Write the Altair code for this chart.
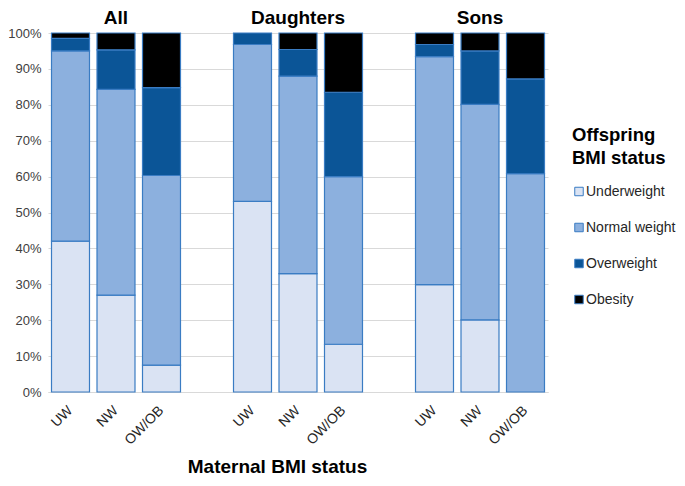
import altair as alt
import pandas as pd

# ---- data ----
groups = ["All", "Daughters", "Sons"]
maternal = ["UW", "NW", "OW/OB"]
categories = ["Underweight", "Normal weight", "Overweight", "Obesity"]
# one value per bar: All UW, All NW, All OW/OB, Daughters UW ... Sons OW/OB (percent)
underweight = [42.0, 27.0, 7.5, 53.1, 33.0, 13.3, 29.9, 20.1, 0.0]
normal_weight = [53.0, 57.3, 52.8, 43.7, 55.0, 46.7, 63.5, 60.0, 60.8]
overweight = [3.5, 11.0, 24.5, 3.2, 7.4, 23.5, 3.4, 14.9, 26.4]
obesity = [1.5, 4.7, 15.2, 0.0, 4.6, 16.5, 3.2, 5.0, 12.8]
y_ticks = [0, 10, 20, 30, 40, 50, 60, 70, 80, 90, 100]

colors = ["#dae3f3", "#8cb0de", "#0b5597", "#000000"]
edge = "#3a7cc3"
font = "Liberation Sans"

# ---- build tables ----
slot_domain = []
for i, g in enumerate(groups):
    if i > 0:
        slot_domain.append(f"gap{i}")
    for m in maternal:
        slot_domain.append(f"{g}|{m}")

series = [underweight, normal_weight, overweight, obesity]
rows = []
k = 0
for g in groups:
    for m in maternal:
        for ci, c in enumerate(categories):
            v = series[ci][k]
            if v > 0:
                rows.append({"slot": f"{g}|{m}", "status": c, "order": ci, "value": v})
        k += 1
df = pd.DataFrame(rows)
heads = pd.DataFrame({"group": groups, "slot": [f"{g}|NW" for g in groups]})

x_scale = alt.Scale(domain=slot_domain, paddingInner=0.165, paddingOuter=0.077)

bars = alt.Chart(df).mark_bar(stroke=edge, strokeWidth=1.2).encode(
    x=alt.X(
        "slot:N",
        scale=x_scale,
        sort=slot_domain,
        axis=alt.Axis(
            title="Maternal BMI status",
            labelExpr="indexof(datum.value, '|') >= 0 ? split(datum.value, '|')[1] : ''",
            labelAngle=-45,
            labelAlign="right",
            labelBaseline="middle",
            labelPadding=16,
            labelFontSize=14,
            labelColor="#262626",
            labelFont=font,
            ticks=False,
            domainColor="#d9d9d9",
            domainWidth=1,
            titleFont=font,
            titleFontSize=19,
            titleFontWeight="bold",
            titleColor="#000000",
            titleX=229,
            titleY=80,
            titleAlign="center",
            titleBaseline="alphabetic",
        ),
    ),
    y=alt.Y(
        "value:Q",
        stack="zero",
        scale=alt.Scale(domain=[0, 100], nice=False),
        axis=alt.Axis(
            title=None,
            values=y_ticks,
            labelExpr="datum.value + '%'",
            domain=False,
            ticks=False,
            labelPadding=7,
            labelFontSize=13,
            labelFont=font,
            labelColor="#404040",
            gridColor="#d9d9d9",
            gridWidth=1,
        ),
    ),
    color=alt.Color(
        "status:N",
        scale=alt.Scale(domain=categories, range=colors),
        legend=alt.Legend(
            orient="none",
            legendX=524,
            legendY=93,
            title=["Offspring", "BMI status"],
            titleFont=font,
            titleFontSize=18.5,
            titleFontWeight="bold",
            titleColor="#000000",
            titleLineHeight=23,
            titlePadding=17,
            labelFont=font,
            labelFontSize=14,
            labelColor="#262626",
            labelOffset=0,
            symbolType="square",
            symbolSize=72,
            symbolStrokeColor=edge,
            symbolStrokeWidth=1,
            rowPadding=22,
        ),
    ),
    order=alt.Order("order:Q", sort="ascending"),
)

titles = alt.Chart(heads).mark_text(
    font=font, fontSize=19, fontWeight="bold", color="#000000", baseline="alphabetic"
).encode(
    x=alt.X("slot:N", scale=x_scale, sort=slot_domain),
    y=alt.value(-9),
    text="group:N",
)

chart = alt.layer(bars, titles).properties(
    width=500,
    height=359,
    autosize=alt.AutoSizeParams(type="none"),
    padding={"left": 40, "top": 25, "right": 129, "bottom": 86},
).configure_view(stroke=None)

chart.save("out.html", embed_options={"renderer": "svg", "actions": False})
